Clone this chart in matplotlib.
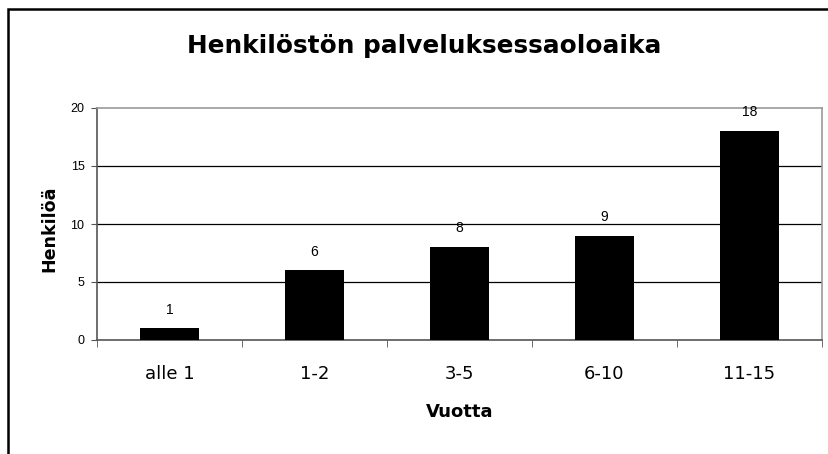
import matplotlib
matplotlib.use('Agg')
import matplotlib.pyplot as plt
from matplotlib.patches import Rectangle

# data
categories = ['alle 1', '1-2', '3-5', '6-10', '11-15']
counts = [1, 6, 8, 9, 18]
yticks = [0, 5, 10, 15, 20]

W, H = 829, 454
fig = plt.figure(figsize=(W / 100, H / 100), dpi=100)

# outer chart frame (right and bottom edges fall outside the picture)
fig.patches.append(Rectangle((8 / W, -0.1), 1.2, 1 - 8.5 / H + 0.1,
                             transform=fig.transFigure, fill=False,
                             edgecolor='black', linewidth=1.8))

left, right, top, bottom = 97, 822, 108, 340
ax = fig.add_axes([left / W, 1 - bottom / H, (right - left) / W, (bottom - top) / H])

x = list(range(len(categories)))
ax.bar(x, counts, width=0.41, color='black', zorder=3)
for xi, v in zip(x, counts):
    ax.annotate(str(v), (xi, v), xytext=(0, 8.5), textcoords='offset points',
                ha='center', va='bottom', fontsize=10, family='Liberation Sans')

ax.set_xlim(-0.5, len(categories) - 0.5)
ax.set_ylim(0, 20)
ax.set_yticks(yticks)
ax.set_yticklabels([str(t) for t in yticks], fontsize=9, family='Liberation Sans')
ax.set_xticks(x)
ax.set_xticklabels(categories, fontsize=13)
ax.tick_params(axis='x', length=0, pad=18)
ax.set_xticks([i - 0.5 for i in range(len(categories) + 1)], minor=True)
ax.tick_params(axis='x', which='minor', length=5, color='#555555', direction='out')
ax.tick_params(axis='y', length=4, color='#555555', direction='out', pad=5)

for yv in yticks[1:-1]:
    ax.axhline(yv, color='black', linewidth=0.9, zorder=1)

ax.spines['left'].set_color('#555555')
ax.spines['bottom'].set_color('#555555')
ax.spines['top'].set_color('#999999')
ax.spines['right'].set_color('#999999')
for s in ax.spines.values():
    s.set_linewidth(1.2)

fig.text(424 / W, 1 - 53 / H, 'Henkilöstön palveluksessaoloaika',
         ha='center', va='baseline', fontsize=17.8, fontweight='bold')
fig.text(460 / W, 1 - 417 / H, 'Vuotta',
         ha='center', va='baseline', fontsize=13, fontweight='bold')
fig.text(54.5 / W, 1 - 228.5 / H, 'Henkilöä', rotation=90, rotation_mode='anchor',
         ha='center', va='baseline', fontsize=12.6, fontweight='bold')

fig.savefig('out.png', dpi=100)
